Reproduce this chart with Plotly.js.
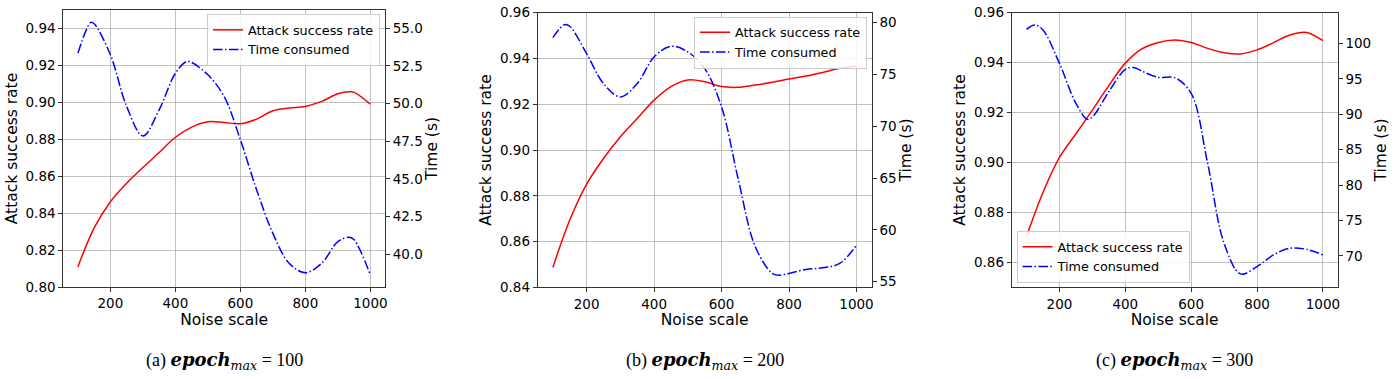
<!DOCTYPE html>
<html>
<head>
<meta charset="utf-8">
<script src="https://cdn.plot.ly/plotly-3.0.1.min.js"></script>
<style>html,body{margin:0;padding:0;background:#fff;}#chart{width:1397px;height:379px;}</style>
</head>
<body>
<div id="chart"></div>
<script>
// ---------- Data ----------
const xTicks = [200, 400, 600, 800, 1000];
const captions = ["(a)", "(b)", "(c)"];
const epochMax = [100, 200, 300];

// Panel (a) epoch_max = 100
const aAsrX = [100,150,200,250,300,350,400,450,500,550,600,650,700,750,800,850,900,935,950,1000];
const aAsrY = [0.8110,0.8320,0.8462,0.8562,0.8647,0.8728,0.8811,0.8866,0.8895,0.8891,0.8884,0.8909,0.8954,0.8969,0.8978,0.9005,0.9046,0.9057,0.9054,0.8990];
const aTimeX = [100,140,150,200,250,300,350,400,435,450,500,550,600,650,700,750,800,850,900,935,950,1000];
const aTimeY = [53.34,55.38,55.29,53.23,49.80,47.85,49.58,52.01,52.79,52.72,51.90,50.46,47.59,44.27,41.39,39.40,38.78,39.40,40.84,41.13,40.96,38.63];

// Panel (b) epoch_max = 200
const bAsrX = [100,150,200,250,300,350,400,450,500,550,600,650,700,750,800,850,900,950,1000];
const bAsrY = [0.8487,0.8694,0.8851,0.8963,0.9058,0.9138,0.9218,0.9277,0.9306,0.9298,0.9277,0.9274,0.9284,0.9296,0.9310,0.9323,0.9339,0.9357,0.9367];
const bTimeX = [100,135,150,200,250,300,350,400,450,500,550,600,650,700,750,770,800,850,900,950,1000];
const bTimeY = [78.55,79.81,79.65,77.01,74.12,72.83,74.12,76.69,77.72,77.17,75.56,71.86,64.79,58.36,55.79,55.62,55.79,56.17,56.33,56.75,58.52];

// Panel (c) epoch_max = 300
const cAsrX = [100,150,200,250,300,350,400,450,500,550,600,650,700,750,800,850,900,950,1000];
const cAsrY = [0.8704,0.8880,0.9020,0.9115,0.9210,0.9308,0.9398,0.9455,0.9481,0.9491,0.9481,0.9457,0.9440,0.9435,0.9451,0.9480,0.9511,0.9521,0.9488];
const cTimeX = [100,125,150,200,250,285,300,350,400,425,450,500,550,600,650,700,750,800,850,900,950,1000];
const cTimeY = [101.97,102.60,101.88,97.18,91.54,89.28,89.60,93.18,96.33,96.60,96.09,95.20,95.16,92.95,83.07,71.79,67.47,68.50,70.15,71.09,70.94,70.15];

// ---------- Styling / layout ----------
const FONT = "DejaVu Sans, sans-serif";
const W = 1397, H = 379;
const red = "#ff0000", blue = "#0000ff";
const dashDot = "9.6px,2.4px,1.5px,2.4px";

const panels = [
  {asrX:aAsrX, asrY:aAsrY, tX:aTimeX, tY:aTimeY, px:[63.3,385], py:[10,287], yr:[0.80,0.95], y2r:[37.83,56.2], y2dt:2.5, y2fmt:".1f",
   leg:{x:380, y:14, xa:"right", ya:"top"}},
  {asrX:bAsrX, asrY:bAsrY, tX:bTimeX, tY:bTimeY, px:[537.7,871.7], py:[12.7,287.3], yr:[0.84,0.96], y2r:[54.45,80.96], y2dt:5, y2fmt:"d",
   leg:{x:867, y:16.5, xa:"right", ya:"top"}},
  {asrX:cAsrX, asrY:cAsrY, tX:cTimeX, tY:cTimeY, px:[1011.7,1337.7], py:[12.7,287.3], yr:[0.85,0.96], y2r:[65.58,104.33], y2dt:5, y2fmt:"d",
   leg:{x:1016.5, y:283, xa:"left", ya:"bottom"}}
];

const traces = [];
const layout = {
  width: W, height: H,
  margin: {l:0, r:0, t:0, b:0},
  paper_bgcolor: "#fff", plot_bgcolor: "#fff",
  font: {family: FONT, size: 13.5, color: "#000"},
  showlegend: true,
  annotations: []
};

panels.forEach((p, i) => {
  const n = i + 1;
  const xa = "x" + (n === 1 ? "" : n);
  const yL = 2*i + 1, yR = 2*i + 2;
  const yaL = "y" + (yL === 1 ? "" : yL), yaR = "y" + yR;
  const legName = "legend" + (n === 1 ? "" : n);

  traces.push({x:p.asrX, y:p.asrY, xaxis:xa, yaxis:yaL, mode:"lines", name:"Attack success rate",
    line:{color:red, width:1.5, shape:"spline", smoothing:1}, legend:legName});
  traces.push({x:p.tX, y:p.tY, xaxis:xa, yaxis:yaR, mode:"lines", name:"Time consumed",
    line:{color:blue, width:1.5, dash:dashDot, shape:"spline", smoothing:1}, legend:legName});

  const xd = [p.px[0]/W, p.px[1]/W];
  const yd = [1 - p.py[1]/H, 1 - p.py[0]/H];

  layout["xaxis" + (n === 1 ? "" : n)] = {
    domain: xd, anchor: yaL, range: [55, 1045],
    tickvals: xTicks, ticks: "outside", ticklen: 4, tickwidth: 1, tickcolor: "#333",
    showgrid: true, gridcolor: "#b0b0b0", gridwidth: 0.8,
    showline: true, mirror: true, linecolor: "#333", linewidth: 1,
    zeroline: false, tickfont: {size: 13.5, family: FONT},
    title: {text: "Noise scale", font: {size: 15.5, family: FONT}, standoff: 2}
  };
  layout["yaxis" + (yL === 1 ? "" : yL)] = {
    domain: yd, anchor: xa, range: p.yr, dtick: 0.02, tick0: 0, tickformat: ".2f",
    ticks: "outside", ticklen: 4, tickwidth: 1, tickcolor: "#333",
    showgrid: true, gridcolor: "#b0b0b0", gridwidth: 0.8,
    showline: true, linecolor: "#333", linewidth: 1, zeroline: false,
    tickfont: {size: 13.5, family: FONT},
    title: {text: "Attack success rate", font: {size: 15.5, family: FONT}, standoff: 4}
  };
  layout["yaxis" + yR] = {
    overlaying: yaL, anchor: xa, side: "right", range: p.y2r, dtick: p.y2dt, tick0: 0, tickformat: p.y2fmt,
    ticks: "outside", ticklen: 4, tickwidth: 1, tickcolor: "#333",
    showgrid: false, showline: true, linecolor: "#333", linewidth: 1, zeroline: false,
    tickfont: {size: 13.5, family: FONT},
    title: {text: "Time (s)", font: {size: 15.5, family: FONT}, standoff: 4}
  };
  layout[legName] = {
    x: p.leg.x / W, y: 1 - p.leg.y / H, xanchor: p.leg.xa, yanchor: p.leg.ya,
    xref: "paper", yref: "paper",
    bgcolor: "rgba(255,255,255,0.85)", bordercolor: "#cccccc", borderwidth: 1,
    font: {size: 12.8, family: FONT}, tracegroupgap: 0, itemwidth: 30
  };

  layout.annotations.push({
    xref: "paper", yref: "paper", x: (p.px[0] + p.px[1]) / 2 / W, y: 1 - 361/H,
    xanchor: "center", yanchor: "middle", showarrow: false,
    font: {family: "Liberation Serif, serif", size: 18, color: "#000"},
    text: captions[i] + " <span style='font-family:DejaVu Serif'><b><i>epoch</i></b><sub><i>max</i></sub></span> = " + epochMax[i]
  });
});

Plotly.newPlot("chart", traces, layout, {displayModeBar: false, staticPlot: true});
</script>
</body>
</html>
